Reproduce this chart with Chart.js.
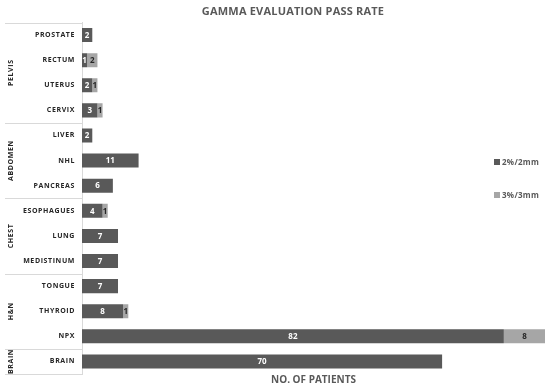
<!DOCTYPE html>
<html><head><meta charset="utf-8">
<script src="https://cdn.jsdelivr.net/npm/chart.js@4/dist/chart.umd.min.js"></script>
<style>html,body{margin:0;padding:0;background:#fff}</style>
</head><body>
<canvas id="c" width="550" height="390"></canvas>
<script>
const categories = ['PROSTATE','RECTUM','UTERUS','CERVIX','LIVER','NHL','PANCREAS','ESOPHAGUES','LUNG','MEDISTINUM','TONGUE','THYROID','NPX','BRAIN'];
const pass2mm = [2,1,2,3,2,11,6,4,7,7,7,8,82,70];
const pass3mm = [null,2,1,1,null,null,null,1,null,null,null,1,8,null];
const groupNames = ['PELVIS','ABDOMEN','CHEST','H&N','BRAIN'];
const groupSizes = [4,3,3,3,1];
const seriesNames = ['2%/2mm','3%/3mm'];
const seriesColors = ['#595959','#a6a6a6'];
const chartTitle = 'GAMMA EVALUATION PASS RATE';
const xTitle = 'NO. OF PATIENTS';

const FONT = "'Open Sans', sans-serif";

const custom = {
  id: 'custom',
  beforeDraw(chart) { chart.ctx.letterSpacing = '0px'; },
  afterDatasetsDraw(chart) {
    const ctx = chart.ctx;
    ctx.save();
    ctx.letterSpacing = '0px';
    ctx.font = `bold 8px ${FONT}`;
    ctx.textAlign = 'center';
    ctx.textBaseline = 'middle';
    chart.data.datasets.forEach((ds, di) => {
      const meta = chart.getDatasetMeta(di);
      meta.data.forEach((bar, i) => {
        const v = ds.data[i];
        if (v == null) return;
        const p = bar.getProps(['x', 'y', 'base'], true);
        ctx.fillStyle = di === 0 ? '#ffffff' : '#262626';
        ctx.fillText(String(v), (p.x + p.base) / 2, p.y + 0.5);
      });
    });
    ctx.restore();
    ctx.letterSpacing = '0.6px';
  },
  afterDraw(chart) {
    const ctx = chart.ctx;
    ctx.save();
    ctx.letterSpacing = '0px';
    const ys = chart.scales.y;
    const step = ys.getPixelForValue(1) - ys.getPixelForValue(0);
    const lines = [ys.getPixelForValue(0) - step / 2];
    let idx = 0;
    groupSizes.forEach((n, g) => {
      const top = ys.getPixelForValue(idx) - step / 2;
      const bot = ys.getPixelForValue(idx + n - 1) + step / 2;
      lines.push(bot);
      ctx.save();
      ctx.translate(11, (top + bot) / 2);
      ctx.rotate(-Math.PI / 2);
      ctx.font = `bold 7px ${FONT}`;
      ctx.letterSpacing = '0.6px';
      ctx.fillStyle = '#262626';
      ctx.textAlign = 'center';
      ctx.textBaseline = 'middle';
      ctx.fillText(groupNames[g], 0, 0);
      ctx.restore();
      idx += n;
    });
    ctx.strokeStyle = '#d9d9d9';
    ctx.lineWidth = 1;
    lines.forEach(y => {
      const yy = Math.round(y) + 0.5;
      ctx.beginPath(); ctx.moveTo(5, yy); ctx.lineTo(ys.right, yy); ctx.stroke();
    });
    // title
    ctx.font = `bold 11px ${FONT}`;
    ctx.letterSpacing = '0.2px';
    ctx.fillStyle = '#595959';
    ctx.textAlign = 'center';
    ctx.textBaseline = 'middle';
    ctx.fillText(chartTitle, 293, 12);
    // legend
    ctx.letterSpacing = '0.3px';
    ctx.font = `bold 8px ${FONT}`;
    ctx.textAlign = 'left';
    const legY = [162, 195];
    seriesNames.forEach((s, i) => {
      ctx.fillStyle = seriesColors[i];
      ctx.fillRect(494, legY[i] - 3, 6, 6);
      ctx.fillStyle = '#595959';
      ctx.fillText(s, 502, legY[i] + 0.5);
    });
    ctx.restore();
  }
};

new Chart(document.getElementById('c'), {
  type: 'bar',
  data: {
    labels: categories,
    datasets: [
      { label: seriesNames[0], data: pass2mm, backgroundColor: seriesColors[0], barPercentage: 0.56, categoryPercentage: 1 },
      { label: seriesNames[1], data: pass3mm, backgroundColor: seriesColors[1], barPercentage: 0.56, categoryPercentage: 1 }
    ]
  },
  options: {
    indexAxis: 'y',
    responsive: false,
    devicePixelRatio: 1,
    animation: false,
    layout: { padding: { top: 22.5, right: 5, bottom: 4, left: 0 } },
    plugins: { legend: { display: false }, title: { display: false }, tooltip: { enabled: false } },
    scales: {
      x: {
        stacked: true, min: 0, max: 90,
        ticks: { display: false },
        grid: { display: false, drawTicks: false },
        border: { display: false },
        title: { display: true, text: xTitle, color: '#595959', font: { family: FONT, size: 10, weight: 'bold' }, padding: 0 }
      },
      y: {
        stacked: true,
        ticks: { color: '#262626', font: { family: FONT, size: 7, weight: 'bold' }, padding: 7, z: 1 },
        grid: { display: false, drawTicks: false },
        border: { display: true, color: '#d9d9d9', width: 1 },
        afterFit(s) { s.width = 82; }
      }
    }
  },
  plugins: [custom]
});
</script>
</body></html>
